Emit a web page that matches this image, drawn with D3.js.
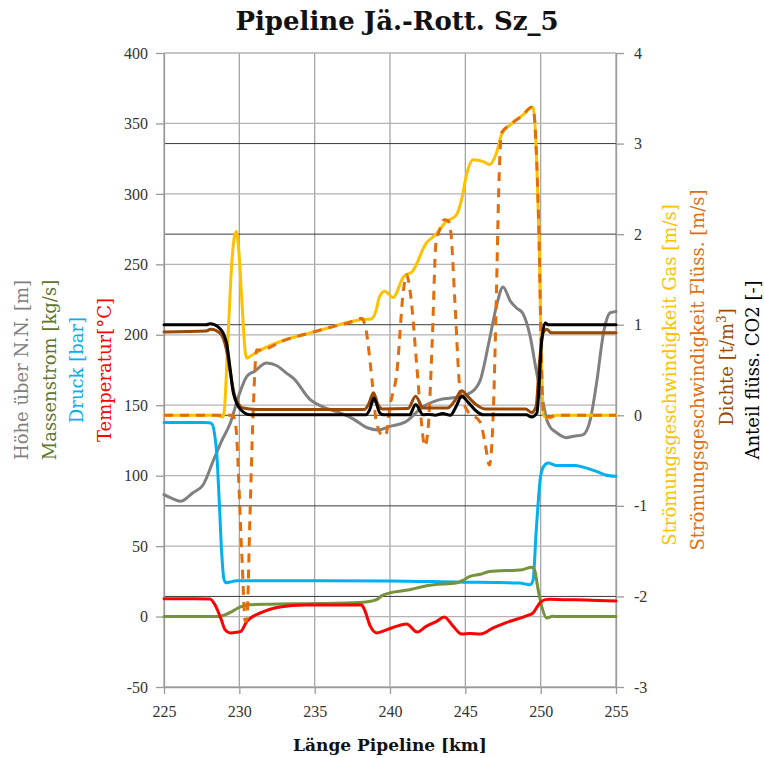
<!DOCTYPE html>
<html><head><meta charset="utf-8">
<script src="https://cdn.jsdelivr.net/npm/d3@7"></script>
<style>body{margin:0;background:#fff}svg{display:block}</style>
</head><body>
<svg id="chart" width="764" height="758"></svg>
<script>
// ---- Axis ticks ----
const xTicks = [225, 230, 235, 240, 245, 250, 255];
const leftTicks = [-50, 0, 50, 100, 150, 200, 250, 300, 350, 400];
const rightTicks = [-3, -2, -1, 0, 1, 2, 3, 4];

// ---- Left-axis series ----
const hoeheKm = [225,225.5,226.1,226.9,227.6,228.3,228.8,229.4,230,230.5,231,231.8,232.5,233.1,233.6,234.7,235.5,236.7,237.6,238.5,239.2,240,241,242.2,243.3,244.6,245.5,246,246.6,247.1,247.5,248,248.4,248.8,249.3,249.7,250.2,250.4,250.6,251,251.7,252.2,252.8,253.3,253.7,254.2,254.6,255];
const hoehe = [86.6,84,81.8,87.7,93.6,111.4,124,137.4,158,170.5,174,180,178,173,169,154,149,144.5,140,134,132.5,135,138,149,154,156,160,168,196.5,222,234,223.7,219,215.5,199,175,150,140,135,131,127,128,129,140,165,203,215.5,216.6];

const druckKm = [225,227.6,228.0,228.2,228.35,228.5,228.67,228.83,228.97,229.1,229.4,229.8,235,240,244.4,248.6,249.3,249.5,249.7,250.0,250.2,250.5,251,252.3,253,253.7,254.3,255];
const druck = [137.8,137.8,137.5,136.5,130,116,81,45,27,24,24.5,25.5,25.5,25.3,24.5,23.8,22.6,26,60,100,106.6,109,107.3,107.3,105.5,103,100.5,99.5];

const massKm = [225,228.6,229.0,229.5,230.0,230.6,232,235,238,238.7,239.1,239.5,240,241.3,242.2,242.9,244.4,244.8,245.3,246,246.6,248.8,249.4,249.6,249.8,250.1,250.4,250.8,251.2,255];
const massenstrom = [0,0,1,3.5,6.5,8.4,8.8,9.2,10,10.8,12,15,16.8,19,21.4,22.6,23.8,25.5,28.5,30,32,33.3,35,33,21,6,-1,0.2,0,0];

const tempKm = [225,228.05,228.4,228.8,229.05,229.4,229.8,230.1,230.5,231.4,232.7,234.25,236,238.1,238.3,238.7,239.1,239.8,240.4,241.1,241.8,242.4,243.1,243.6,244.2,244.75,245.3,246,246.85,247.75,249.1,249.5,249.95,250.3,250.6,251.5,253,255];
const temperatur = [12.7,12.5,8,-2.2,-9.3,-11.6,-11.2,-10.5,-3.4,2.6,6.8,8.2,8.2,8.3,5,-7,-11.6,-9.3,-7,-5.3,-11,-7,-3.4,-0.3,-7,-12.4,-12,-12.4,-8.1,-4.1,0.6,2.6,9.7,12,12.3,12,11.8,11];

// ---- Right-axis series ----
const gasKm = [225,228.5,228.9,229.0,229.27,229.5,229.65,229.8,229.95,230.15,230.4,230.5,230.8,231.4,233,234.7,236,237.6,238.4,238.7,239.1,239.3,239.66,240.2,240.9,241.5,242.4,243,243.75,244.4,244.75,245.1,245.5,246.2,246.6,247.07,247.4,248,248.85,249.4,249.5,249.75,249.9,250.05,250.2,250.6,251,255];
const gas = [0,0,-0.02,0.05,0.94,1.68,1.95,2.03,1.85,1.31,0.69,0.63,0.66,0.72,0.83,0.91,0.97,1.04,1.06,1.06,1.17,1.31,1.37,1.3,1.53,1.59,1.9,1.99,2.14,2.21,2.38,2.67,2.82,2.8,2.77,2.9,3.1,3.21,3.32,3.4,3.39,2.75,1.9,0.6,-0.01,-0.03,0,0];

const fluessKm = [225,229.55,229.75,230.16,230.4,230.5,230.7,230.9,231.15,231.4,233,234.7,236,237.6,238.1,238.4,238.8,239.1,239.55,239.75,240.0,240.45,240.9,241.1,241.35,241.8,242.1,242.3,242.5,242.8,243.05,243.3,243.6,243.85,244.05,244.3,244.65,245.1,246,246.3,246.6,246.85,247.07,247.2,247.4,248,248.85,249.4,249.5,249.75,249.9,250.05,250.2,250.6,251,255];
const fluess = [0,0,-0.1,-1.52,-2.28,-2.25,-1.15,-0.05,0.72,0.72,0.83,0.91,0.97,1.04,1.07,0.95,0.4,-0.08,-0.23,-0.2,0.1,0.47,1.39,1.55,1.35,0.5,-0.1,-0.34,-0.2,0.8,1.9,2.05,2.16,2.15,2.0,1.28,0.28,0.06,-0.08,-0.3,-0.55,0.01,1.39,2.38,3.12,3.21,3.32,3.4,3.39,2.75,1.9,0.6,-0.01,-0.02,0,0];

const dichteKm = [225,227.8,228.1,228.7,229.15,229.4,229.7,230.25,231.1,238.3,238.6,238.9,239.2,239.5,241.2,241.7,242.2,243.8,244.3,244.75,245.2,245.7,246.3,249.0,249.4,249.7,249.9,250.17,250.4,250.7,255];
const dichte = [0.92,0.93,0.95,0.91,0.72,0.47,0.21,0.08,0.065,0.065,0.13,0.25,0.12,0.07,0.075,0.21,0.08,0.08,0.16,0.27,0.2,0.12,0.07,0.07,0.03,0.1,0.55,0.91,0.95,0.91,0.91];

const anteilKm = [225,227.8,228.05,228.7,229.15,229.4,229.6,230.1,230.7,238.4,238.65,238.93,239.33,239.6,241.3,241.7,242.2,242.6,243.0,243.5,244.0,244.4,244.75,245.2,245.7,246.2,249.05,249.4,249.75,250.07,250.3,250.5,255];
const anteil = [1.0,1.0,1.01,0.96,0.8,0.5,0.25,0.06,0.006,0.005,0.06,0.19,0.025,0.005,0.005,0.12,0.005,0.01,0.0,0.02,0.0,0.1,0.21,0.14,0.05,0.005,0.005,-0.02,0.025,0.83,1.02,1.0,1.0];

// ---- Layout ----
const svg = d3.select("#chart");
const X0 = 164, X1 = 616, Y0 = 53, Y1 = 687;
const x = d3.scaleLinear().domain([225, 255]).range([X0, X1]);
const yL = d3.scaleLinear().domain([-50, 400]).range([Y1, Y0]);
const yR = d3.scaleLinear().domain([-3, 4]).range([Y1, Y0]);
const serif = "'DejaVu Serif', serif";
const tickFont = "'Liberation Serif', serif";
const fmt = d => String(d);

// grid lines
const g = svg.append("g");
g.selectAll("line.vg").data(xTicks).join("line")
  .attr("x1", d => x(d)).attr("x2", d => x(d)).attr("y1", Y0).attr("y2", Y1)
  .attr("stroke", "#a6a6a6").attr("stroke-width", 1.3);
g.selectAll("line.hg").data(leftTicks).join("line")
  .attr("x1", X0).attr("x2", X1).attr("y1", d => yL(d)).attr("y2", d => yL(d))
  .attr("stroke", "#b3b3b3").attr("stroke-width", 1.3);
g.selectAll("line.rg").data(rightTicks.filter(d => d > -3 && d < 4)).join("line")
  .attr("x1", X0).attr("x2", X1).attr("y1", d => yR(d)).attr("y2", d => yR(d))
  .attr("stroke", "#3a3a3a").attr("stroke-width", 1);

// axes
function styleAxis(sel) {
  sel.select(".domain").attr("stroke", "#9a9a9a").attr("stroke-width", 1.3);
  sel.selectAll(".tick line").attr("stroke", "#9a9a9a").attr("stroke-width", 1.3);
  sel.selectAll(".tick text").attr("fill", "#333").attr("font-family", tickFont).attr("font-size", 16);
}
svg.append("g").attr("transform", `translate(0,${Y1})`)
  .call(d3.axisBottom(x).tickValues(xTicks).tickFormat(fmt).tickSize(7).tickPadding(12).tickSizeOuter(0))
  .call(styleAxis);
svg.append("g").attr("transform", `translate(${X0},0)`)
  .call(d3.axisLeft(yL).tickValues(leftTicks).tickFormat(fmt).tickSize(8).tickPadding(8).tickSizeOuter(0))
  .call(styleAxis);
svg.append("g").attr("transform", `translate(${X1},0)`)
  .call(d3.axisRight(yR).tickValues(rightTicks).tickFormat(fmt).tickSize(8).tickPadding(10).tickSizeOuter(0))
  .call(styleAxis);

// series
const curve = d3.curveMonotoneX;
function draw(kms, vals, yScale, color, width, dash) {
  const pts = kms.map((k, i) => [k, vals[i]]);
  const line = d3.line().x(d => x(d[0])).y(d => yScale(d[1])).curve(curve);
  const p = svg.append("path").datum(pts).attr("d", line)
    .attr("fill", "none").attr("stroke", color).attr("stroke-width", width)
    .attr("stroke-linejoin", "round").attr("stroke-linecap", dash ? "butt" : "round");
  if (dash) p.attr("stroke-dasharray", dash);
}
draw(hoeheKm, hoehe, yL, "#808080", 3);
draw(druckKm, druck, yL, "#00b0f0", 3);
draw(massKm, massenstrom, yL, "#76923c", 3);
draw(tempKm, temperatur, yL, "#ff0000", 3);
draw(gasKm, gas, yR, "#ffc000", 3);
draw(fluessKm, fluess, yR, "#e46c0a", 3, "9,7");
draw(dichteKm, dichte, yR, "#984807", 3);
draw(anteilKm, anteil, yR, "#000000", 3);

// title
svg.append("text").attr("x", 397).attr("y", 30).attr("text-anchor", "middle")
  .attr("font-family", serif).attr("font-weight", "bold").attr("font-size", 26)
  .attr("fill", "#111").text("Pipeline Jä.-Rott. Sz_5");
// x label
svg.append("text").attr("x", 390).attr("y", 751).attr("text-anchor", "middle")
  .attr("font-family", serif).attr("font-weight", "bold").attr("font-size", 17)
  .attr("fill", "#111").text("Länge Pipeline [km]");

// y labels
const cy = (Y0 + Y1) / 2;
function vlabel(xp, yc, parts) {
  const t = svg.append("text").attr("transform", `translate(${xp},${yc}) rotate(-90)`)
    .attr("text-anchor", "middle").attr("font-family", serif).attr("font-size", 18);
  parts.forEach(p => {
    const s = t.append("tspan").attr("fill", p[1]).text(p[0]);
    if (p[2]) s.attr("font-size", p[2]).attr("dy", p[3]);
  });
}
vlabel(28, cy, [["Höhe über N.N. [m]", "#808080"]]);
vlabel(56, cy, [["Massenstrom [kg/s]", "#5f7530"]]);
vlabel(83, cy, [["Druck [bar]", "#00b0f0"]]);
vlabel(111, cy, [["Temperatur[°C]", "#ff0000"]]);
vlabel(676, cy + 5, [["Strömungsgeschwindigkeit Gas [m/s]", "#ffc000"]]);
vlabel(704, cy, [["Strömungsgeschwindigkeit Flüss. [m/s]", "#e46c0a"]]);
vlabel(733, cy - 3, [["Dichte [t/m", "#984807"], ["3", "#984807", 12, -7], ["]", "#984807", 18, 7]]);
vlabel(759, cy, [["Anteil flüss. CO2 [-]", "#000"]]);
</script>
</body></html>
